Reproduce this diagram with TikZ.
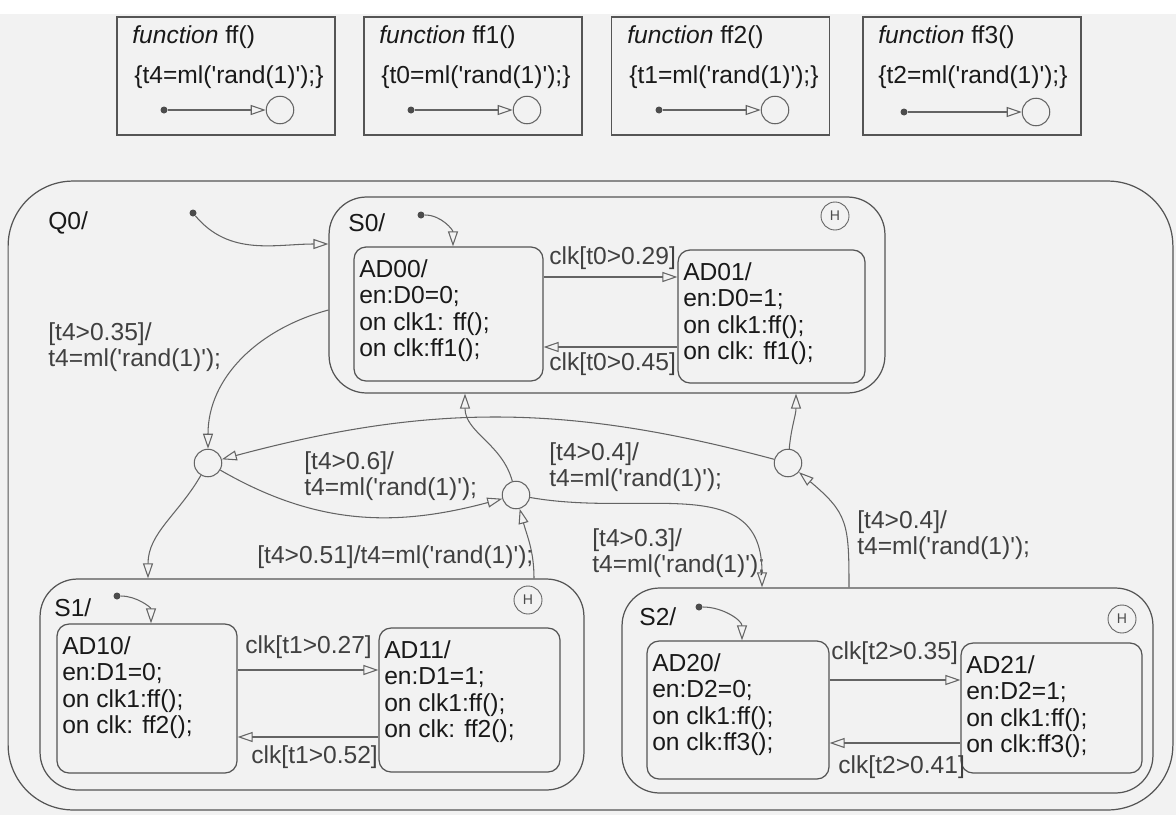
\documentclass[tikz,border=0pt]{standalone}
\usepackage{fontspec}
\setmainfont{Liberation Sans}
\usepackage{xcolor}
\usetikzlibrary{arrows.meta}

\definecolor{canvas}{RGB}{242,242,242}
\definecolor{wire}{RGB}{100,100,100}
\definecolor{frame}{RGB}{85,85,85}
\newcommand{\mlrand}{ml(\textquotesingle rand(1)\textquotesingle)}

\begin{document}
\begin{tikzpicture}[x=0.02cm, y=-0.02cm, font=\fontsize{14}{15}\selectfont]
	\tikzstyle{chart}=[draw=frame, line width=0.7pt, rounded corners=1.3cm, inner sep=0pt]
	\tikzstyle{super}=[draw=frame, line width=0.7pt, rounded corners=0.75cm, inner sep=0pt]
	\tikzstyle{leaf}=[draw=frame, line width=0.7pt, rounded corners=0.24cm, inner sep=0pt]
	\tikzstyle{acts}=[anchor=north west, align=left, inner xsep=0.11cm, inner ysep=0.26cm, text=black!90]
	\tikzstyle{fbox}=[draw=frame, line width=0.7pt, minimum width=4.36cm, minimum height=2.36cm, inner sep=0pt]
	\tikzstyle{ftext}=[anchor=west, inner sep=0pt, text=black!90]
	\tikzstyle{statename}=[anchor=west, inner sep=0pt, text=black!90]
	\tikzstyle{junction}=[draw=wire, line width=0.6pt, circle, minimum size=0.55cm, inner sep=0pt]
	\tikzstyle{hist}=[draw=wire, line width=0.5pt, circle, minimum size=0.56cm, inner sep=0pt, font=\fontsize{8}{8}\selectfont, text=black!70]
	\tikzstyle{initdot}=[fill=black!70, circle, minimum size=0.14cm, inner sep=0pt]
	\tikzstyle{guard}=[anchor=west, align=left, inner sep=0pt, text=black!75]
	\tikzset{edge/.style = {draw=wire, line width=0.6pt, -{Triangle[open, length=0.3cm, width=0.2cm]}}}

	\fill[white] (0,0) rectangle (1176,815);
	\fill[canvas] (0,14) rectangle (1176,815);
	\useasboundingbox (0,0) rectangle (1176,815);

	\node[fbox](ffbox) at (226,76) {};
	\node[ftext](fftitle) at (132,37) {\textit{function} ff()};
	\node[ftext](ffbody) at (134,77) {\{t4=\mlrand;\}};
	\node[initdot](ffstart) at (164,110) {};
	\node[junction](ffend) at (280,110) {};
	\draw[edge](ffstart) to (ffend);

	\node[fbox](ff1box) at (473,76) {};
	\node[ftext](ff1title) at (379,37) {\textit{function} ff1()};
	\node[ftext](ff1body) at (381,77) {\{t0=\mlrand;\}};
	\node[initdot](ff1start) at (411,110) {};
	\node[junction](ff1end) at (527,110) {};
	\draw[edge](ff1start) to (ff1end);

	\node[fbox](ff2box) at (720.5,76) {};
	\node[ftext](ff2title) at (627,37) {\textit{function} ff2()};
	\node[ftext](ff2body) at (629,77) {\{t1=\mlrand;\}};
	\node[initdot](ff2start) at (659,110) {};
	\node[junction](ff2end) at (775,110) {};
	\draw[edge](ff2start) to (ff2end);

	\node[fbox](ff3box) at (972,76) {};
	\node[ftext](ff3title) at (878,37) {\textit{function} ff3()};
	\node[ftext](ff3body) at (878,77) {\{t2=\mlrand;\}};
	\node[initdot](ff3start) at (904,112) {};
	\node[junction](ff3end) at (1036,112) {};
	\draw[edge](ff3start) to (ff3end);

	\node[chart, minimum width=23.3cm, minimum height=12.58cm](q0) at (590.5,495.5) {};
	\node[statename](q0name) at (48,223) {Q0/};
	\node[initdot](q0init) at (193,213) {};

	\node[super, minimum width=11.12cm, minimum height=3.92cm](s0) at (607,295) {};
	\node[statename](s0name) at (348,223) {S0/};
	\node[hist](s0hist) at (835,216) {H};
	\node[initdot](s0init) at (421,215) {};
	\node[leaf, minimum width=3.78cm, minimum height=2.68cm,
		label={[acts]north west:{AD00/\\en:D0=0;\\on clk1: ff();\\on clk:ff1();}}](ad00) at (448.5,314) {};
	\node[leaf, minimum width=3.74cm, minimum height=2.66cm,
		label={[acts]north west:{AD01/\\en:D0=1;\\on clk1:ff();\\on clk: ff1();}}](ad01) at (771.5,316.5) {};
	\node[guard](t029) at (549,258) {clk[t0>0.29]};
	\node[guard](t045) at (549,364) {clk[t0>0.45]};

	\node[super, minimum width=10.88cm, minimum height=4.22cm](s1) at (312,684.5) {};
	\node[statename](s1name) at (54,608) {S1/};
	\node[hist](s1hist) at (528,600) {H};
	\node[initdot](s1init) at (117,596) {};
	\node[leaf, minimum width=3.6cm, minimum height=2.98cm,
		label={[acts]north west:{AD10/\\en:D1=0;\\on clk1:ff();\\on clk: ff2();}}](ad10) at (147,698.5) {};
	\node[leaf, minimum width=3.62cm, minimum height=2.88cm,
		label={[acts]north west:{AD11/\\en:D1=1;\\on clk1:ff();\\on clk: ff2();}}](ad11) at (469.5,700) {};
	\node[guard](t127) at (245,647) {clk[t1>0.27]};
	\node[guard](t152) at (251,757) {clk[t1>0.52]};

	\node[super, minimum width=10.62cm, minimum height=4.1cm](s2) at (887.5,690.5) {};
	\node[statename](s2name) at (639,617) {S2/};
	\node[hist](s2hist) at (1122,619) {H};
	\node[initdot](s2init) at (699,607) {};
	\node[leaf, minimum width=3.64cm, minimum height=2.76cm,
		label={[acts]north west:{AD20/\\en:D2=0;\\on clk1:ff();\\on clk:ff3();}}](ad20) at (738,710) {};
	\node[leaf, minimum width=3.62cm, minimum height=2.6cm,
		label={[acts]north west:{AD21/\\en:D2=1;\\on clk1:ff();\\on clk:ff3();}}](ad21) at (1051.5,708) {};
	\node[guard](t235) at (831,653) {clk[t2>0.35]};
	\node[guard](t241) at (838,767) {clk[t2>0.41]};

	\node[junction](j1) at (208,463) {};
	\node[junction](j2) at (516,495) {};
	\node[junction](j3) at (788,463) {};

	\node[guard](g035) at (48,347) {[t4>0.35]/\\t4=\mlrand;};
	\node[guard](g06) at (304,476) {[t4>0.6]/\\t4=\mlrand;};
	\node[guard](g04a) at (549,467) {[t4>0.4]/\\t4=\mlrand;};
	\node[guard](g03) at (592,553) {[t4>0.3]/\\t4=\mlrand;};
	\node[guard](g051) at (257,557) {[t4>0.51]/t4=\mlrand;};
	\node[guard](g04b) at (857,535) {[t4>0.4]/\\t4=\mlrand;};

	\draw[edge](q0init) to[out=-50,in=180] (s0.west |- 0,244);
	\draw[edge](s0init) to[out=0,in=90] (ad00.north -| 453,0);
	\draw[edge](ad00.east |- 0,277) to (ad01.west |- 0,277);
	\draw[edge](ad01.west |- 0,347) to (ad00.east |- 0,347);

	\draw[edge](s1init) to[out=0,in=90] (ad10.north -| 151,0);
	\draw[edge](ad10.east |- 0,670) to (ad11.west |- 0,670);
	\draw[edge](ad11.west |- 0,737) to (ad10.east |- 0,737);

	\draw[edge](s2init) to[out=0,in=90] (ad20.north -| 742,0);
	\draw[edge](ad20.east |- 0,680) to (ad21.west |- 0,680);
	\draw[edge](ad21.west |- 0,743) to (ad20.east |- 0,743);

	\draw[edge](s0.west |- 0,310) to[out=195,in=90] (j1);
	\draw[edge](j3) to[out=165,in=15] (j1);
	\draw[edge](j3) to[out=85,in=-90] (s0.south -| 796,0);
	\draw[edge](j1) to[out=-30,in=195] (j2);
	\draw[edge](j2) to[out=105,in=-90] (s0.south -| 465,0);
	\draw[edge](j2) to[out=-10,in=90,looseness=1.2] (s2.north -| 762,0);
	\draw[edge](s1.north -| 534,0) to[out=90,in=-75] (j2);
	\draw[edge](j1) to[out=-120,in=90] (s1.north -| 148,0);
	\draw[edge](s2.north -| 849,0) to[out=90,in=-40,looseness=1.3] (j3);
\end{tikzpicture}
\end{document}
